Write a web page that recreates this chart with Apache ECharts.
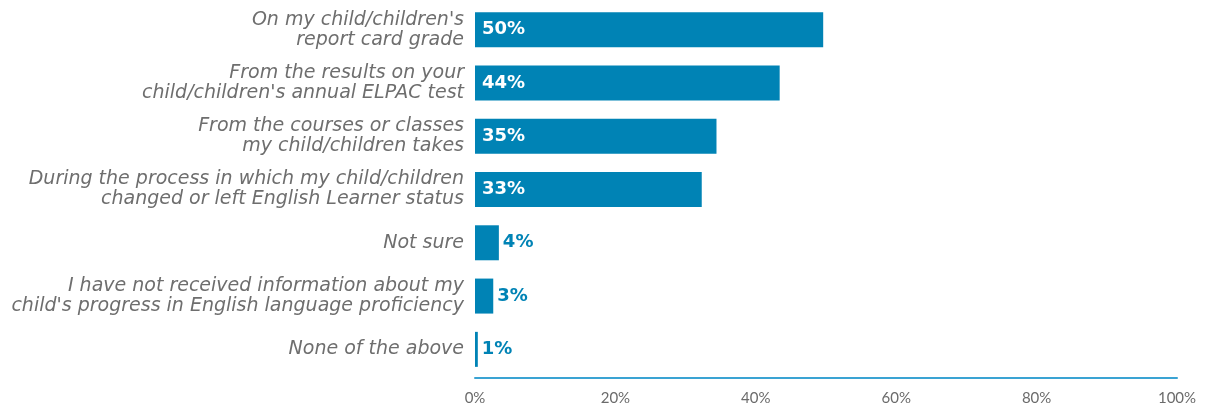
<!DOCTYPE html>
<html>
<head>
<meta charset="utf-8">
<script src="https://cdn.jsdelivr.net/npm/echarts@6/dist/echarts.min.js"></script>
<style>
html,body{margin:0;padding:0;background:#fff;}
#c{width:1216px;height:406px;}
</style>
</head>
<body>
<div id="c"></div>
<script>
var categories = [
  "On my child/children's\nreport card grade",
  "From the results on your\nchild/children's annual ELPAC test",
  "From the courses or classes\nmy child/children takes",
  "During the process in which my child/children\nchanged or left English Learner status",
  "Not sure",
  "I have not received information about my\nchild's progress in English language proficiency",
  "None of the above"
];
var values = [49.6, 43.4, 34.4, 32.3, 3.4, 2.6, 0.4];
var valueLabels = ["50%", "44%", "35%", "33%", "4%", "3%", "1%"];
var tickLabels = ["0%", "20%", "40%", "60%", "80%", "100%"];

var BLUE = "#0083b5";
var chart = echarts.init(document.getElementById('c'));
var data = values.map(function (v, i) {
  var inside = v > 10;
  return {
    value: v,
    label: inside ? {
      position: 'insideLeft', distance: 7, color: '#ffffff'
    } : {
      position: 'right', distance: 4, color: BLUE
    }
  };
});
chart.setOption({
  animation: false,
  grid: { left: 475, right: 39, top: 3, bottom: 30, containLabel: false },
  xAxis: {
    type: 'value', min: 0, max: 100, interval: 20,
    offset: 2,
    axisLine: { show: true, lineStyle: { color: '#3aa3d3', width: 2 } },
    axisTick: { show: false },
    splitLine: { show: false },
    axisLabel: {
      color: '#6b6b6b', fontSize: 15, fontFamily: 'Lato', margin: 13,
      formatter: function (v) { return tickLabels[Math.round(v / 20)]; }
    }
  },
  yAxis: {
    type: 'category', inverse: true, data: categories,
    axisLine: { show: false }, axisTick: { show: false },
    axisLabel: {
      color: '#6e6e6e', fontSize: 19, fontStyle: 'italic', fontFamily: 'DejaVu Sans',
      lineHeight: 20, margin: 11, align: 'right'
    }
  },
  series: [{
    type: 'bar', data: data, barWidth: 35,
    itemStyle: { color: BLUE },
    label: {
      show: true, fontSize: 18, fontWeight: 'bold', fontFamily: 'DejaVu Sans',
      formatter: function (p) { return valueLabels[p.dataIndex]; }
    }
  }]
});
</script>
</body>
</html>
